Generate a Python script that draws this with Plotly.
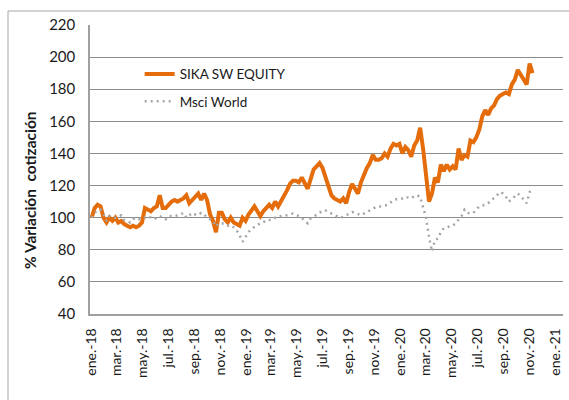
import plotly.graph_objects as go
import pandas as pd

dates = pd.date_range("2018-01-01", periods=150, freq="7D")

sika = [100, 106, 108, 107, 100, 97, 100, 98, 100, 97,
        98, 96, 95, 94, 95, 94, 95, 97, 106, 105,
        104, 106, 107, 114, 106, 106, 108, 110, 111, 110,
        111, 112, 114, 109, 111, 113, 115, 111, 115, 111,
        102, 98, 91, 103, 103, 99, 97, 100, 97, 96,
        95, 100, 98, 102, 105, 107, 104, 101, 104, 106,
        108, 106, 110, 107, 110, 113, 117, 121, 123, 123,
        122, 125, 122, 118, 124, 130, 132, 134, 131, 125,
        118, 114, 112, 111, 110, 112, 109, 116, 121, 118,
        115, 122, 127, 131, 134, 139, 136, 136, 137, 140,
        138, 143, 146, 145, 146, 140, 144, 142, 138, 145,
        148, 156, 143, 128, 110, 115, 125, 122, 133, 129,
        133, 130, 132, 130, 143, 136, 139, 138, 148, 147,
        150, 155, 163, 167, 164, 168, 170, 174, 176, 177,
        178, 177, 183, 186, 192, 189, 186, 183, 196, 190]

msci = [100, 103, 104.5, 105, 102, 98, 101, 100, 100, 101,
        101.5, 98.5, 97.5, 97, 99, 100, 99, 99, 100, 101,
        100, 99, 100, 101, 100, 99, 101, 101, 101, 101.5,
        102, 103, 100, 101.5, 103, 102, 101.5, 103, 102, 100,
        99, 98, 94.5, 96.5, 96.5, 96, 95, 95.5, 94, 92,
        89, 85, 88, 91, 93, 94.5, 95.5, 96.5, 97, 98.5,
        98.5, 98.5, 100, 100.5, 101, 101.5, 101.5, 102, 102.5, 102,
        101, 100, 98, 96.5, 99.5, 100.5, 101.5, 103, 104.5, 104.5,
        103.5, 102.5, 101.5, 101, 100, 100.5, 101.5, 102.5, 103.5, 103,
        102, 101.5, 102.5, 103.5, 105, 106, 106.5, 107, 107, 107.5,
        108, 109.5, 111, 111.5, 112, 112, 113, 112.5, 112, 113.5,
        114, 113, 107, 100, 88, 79, 86, 87, 91, 93.5,
        94, 94.5, 95, 96.5, 98.5, 101, 105, 103, 102.5, 103,
        105, 107, 107.5, 108, 109, 110.5, 112, 114, 116, 115,
        113, 110, 111.5, 113, 115, 113.5, 111, 109, 116, 117]

tick_vals = pd.date_range("2018-01-01", "2021-01-01", freq="2MS")
mes = {1: "ene.", 3: "mar.", 5: "may.", 7: "jul.", 9: "sep.", 11: "nov."}
tick_text = [f"{mes[d.month]}-{str(d.year)[2:]}" for d in tick_vals]

FONT = "Lato"
TXT = "#1a1a1a"
PW, PH = 473, 289

fig = go.Figure()
fig.add_trace(go.Scatter(
    x=dates, y=sika, mode="lines", name="SIKA SW EQUITY",
    line=dict(color="#E46C0A", width=4), legend="legend"))
fig.add_trace(go.Scatter(
    x=dates, y=msci, mode="lines", name="Msci World",
    line=dict(color="#A6A6A6", width=2.5, dash="2px,4px"), legend="legend2"))

fig.update_layout(
    width=569, height=400, showlegend=True,
    margin=dict(l=90, r=6, t=25, b=86),
    paper_bgcolor="white", plot_bgcolor="white",
    font=dict(family=FONT, color=TXT, size=14),
    legend=dict(x=0.105, y=0.83, xanchor="left", yanchor="middle",
                bgcolor="rgba(0,0,0,0)", font=dict(size=13.5, family=FONT, color=TXT)),
    legend2=dict(x=0.105, y=0.735, xanchor="left", yanchor="middle",
                 bgcolor="rgba(0,0,0,0)", font=dict(size=13.5, family=FONT, color=TXT)),
    xaxis=dict(
        type="date", range=["2017-12-28", "2021-01-20"],
        tickmode="array", tickvals=tick_vals, ticktext=tick_text,
        tickangle=-90, tickfont=dict(size=14, family=FONT, color=TXT),
        showgrid=False, showline=True, linecolor="#A0A0A0", linewidth=1.5,
        ticks="outside", ticklen=7, tickcolor="white", zeroline=False),
    yaxis=dict(
        range=[40, 220], tickvals=list(range(40, 221, 20)),
        tickfont=dict(size=15, family=FONT, color=TXT),
        showgrid=True, gridcolor="#8C8C8C", gridwidth=1,
        showline=True, linecolor="#A0A0A0", linewidth=1.5,
        ticks="outside", ticklen=10, tickcolor="white", zeroline=False),
    annotations=[
        dict(text="<b>% Variación\u00a0 cotización</b>", textangle=-90,
             xref="paper", yref="paper", x=-60 / PW, y=(314 - 190) / PH,
             xanchor="center", yanchor="middle", showarrow=False,
             font=dict(size=15.5, family=FONT, color=TXT)),
    ],
    shapes=[
        dict(type="line", xref="paper", yref="paper",
             x0=-82 / PW, x1=-82 / PW, y0=303 / PH, y1=-90 / PH,
             line=dict(color="#A6A6A6", width=1)),
        dict(type="line", xref="paper", yref="paper",
             x0=-82 / PW, x1=1.02, y0=303 / PH, y1=303 / PH,
             line=dict(color="#A6A6A6", width=1)),
    ],
)

fig.write_html("out.html", config={"displayModeBar": False},
               post_script="document.body.style.margin='0';")
